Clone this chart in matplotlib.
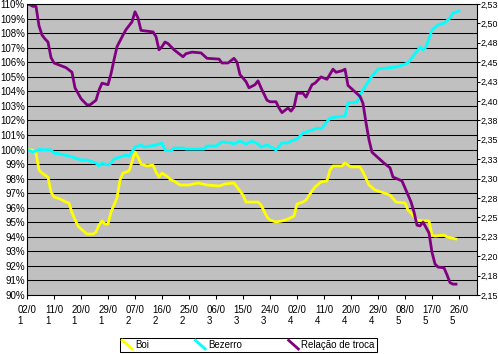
import matplotlib
matplotlib.use('Agg')
import matplotlib.pyplot as plt
from matplotlib.lines import Line2D
from matplotlib.legend_handler import HandlerBase

# ---------------- data ----------------
# x values are days since 02/01
x_tick_days = [0, 9, 18, 27, 36, 45, 54, 63, 72, 81, 90, 99, 108, 117, 126, 135, 144]
x_tick_labels = ["02/0\n1", "11/0\n1", "20/0\n1", "29/0\n1", "07/0\n2", "16/0\n2", "25/0\n2",
                 "06/0\n3", "15/0\n3", "24/0\n3", "02/0\n4", "11/0\n4", "20/0\n4", "29/0\n4",
                 "08/0\n5", "17/0\n5", "26/0\n5"]

left_ticks = list(range(90, 111))
left_tick_labels = [f"{v}%" for v in left_ticks]

right_ticks = [2.15, 2.175, 2.20, 2.225, 2.25, 2.275, 2.30, 2.325, 2.35, 2.375,
               2.40, 2.425, 2.45, 2.475, 2.50, 2.525]
right_tick_labels = ["2,15", "2,18", "2,20", "2,23", "2,25", "2,28", "2,30", "2,33",
                     "2,35", "2,38", "2,40", "2,43", "2,45", "2,48", "2,50", "2,53"]

boi_days = [0, 2, 3, 4, 5, 7, 8, 9, 11, 13, 14, 15, 17, 18, 20, 22, 23, 24, 25, 26, 27, 28,
            30, 31, 32, 34, 35, 36, 37, 38, 40, 42, 43, 44, 45, 47, 48, 49, 51, 54, 57, 60,
            64, 66, 69, 70, 72, 73, 77, 78, 80, 81, 83, 85, 87, 89, 90, 92, 93, 95, 96, 98,
            100, 101, 102, 105, 106, 108, 110, 111, 112, 114, 116, 118, 121, 123, 126, 127,
            128, 130, 132, 134, 135, 136, 139, 140, 143]
boi = [100.0, 99.95, 99.76, 98.6, 98.38, 98.1, 97.08, 96.74, 96.6, 96.39, 96.32, 95.64,
       94.74, 94.54, 94.19, 94.19, 94.33, 94.81, 95.09, 94.88, 94.88, 95.7, 96.67, 97.9,
       98.38, 98.52, 99.14, 99.83, 99.48, 99.0, 98.87, 98.93, 98.45, 98.11, 98.38, 98.11,
       97.9, 97.84, 97.56, 97.56, 97.7, 97.56, 97.49, 97.63, 97.7, 97.42, 96.87, 96.39,
       96.39, 96.19, 95.36, 95.15, 95.02, 95.09, 95.22, 95.43, 96.25, 96.39, 96.53, 97.15,
       97.42, 97.77, 97.84, 98.59, 98.87, 98.87, 99.07, 98.8, 98.8, 98.8, 98.45, 97.56,
       97.22, 97.08, 96.87, 96.39, 96.32, 95.84, 95.64, 95.15, 95.09, 95.09, 94.12, 94.05,
       94.12, 93.99, 93.85]

bezerro_days = [0, 2, 4, 8, 9, 11, 14, 16, 18, 20, 22, 23, 24, 25, 27, 28, 29, 31, 33, 34,
                35, 36, 38, 39, 41, 43, 45, 46, 48, 49, 52, 53, 59, 60, 63, 65, 68, 69, 71,
                73, 75, 77, 78, 80, 82, 83, 85, 87, 88, 90, 92, 95, 97, 98, 101, 103, 106,
                107, 110, 111, 113, 115, 117, 120, 123, 125, 127, 129, 131, 132, 133, 135,
                137, 139, 141, 142, 144]
bezerro = [100.0, 99.83, 100.0, 99.97, 99.76, 99.69, 99.55, 99.42, 99.28, 99.28, 99.14,
           99.07, 98.87, 99.07, 98.93, 99.07, 99.35, 99.48, 99.62, 99.55, 99.83, 100.17,
           100.31, 100.17, 100.24, 100.31, 100.45, 99.97, 99.9, 100.1, 100.1, 100.03,
           100.03, 100.24, 100.24, 100.52, 100.45, 100.38, 100.58, 100.38, 100.58, 100.38,
           100.17, 100.31, 100.1, 99.97, 100.45, 100.45, 100.58, 100.72, 101.13, 101.34,
           101.48, 101.41, 102.16, 102.23, 102.3, 103.2, 103.26, 103.75, 104.43, 105.05,
           105.53, 105.6, 105.67, 105.81, 105.95, 106.49, 107.04, 106.84, 107.04, 108.21,
           108.56, 108.69, 109.04, 109.38, 109.52]

troca_days = [0, 1, 2, 3, 4, 5, 6, 7, 8, 9, 11, 13, 15, 16, 18, 20, 21, 23, 24, 25, 27, 28,
              29, 30, 32, 33, 35, 36, 37, 38, 40, 42, 43, 44, 45, 46, 47, 49, 52, 53, 55,
              58, 60, 64, 65, 67, 69, 70, 71, 73, 74, 76, 77, 78, 80, 81, 83, 84, 85, 87,
              88, 89, 90, 92, 93, 95, 96, 98, 100, 102, 103, 105, 106, 107, 109, 111, 112,
              113, 114, 115, 117, 119, 121, 122, 125, 126, 128, 129, 130, 131, 132, 134,
              135, 136, 137, 139, 140, 141, 142, 143]
troca = [2.525, 2.524, 2.522, 2.522, 2.497, 2.485, 2.480, 2.476, 2.456, 2.449, 2.446,
         2.443, 2.437, 2.417, 2.403, 2.395, 2.395, 2.401, 2.414, 2.423, 2.421, 2.435,
         2.453, 2.470, 2.485, 2.492, 2.502, 2.515, 2.507, 2.491, 2.490, 2.489, 2.483,
         2.466, 2.470, 2.476, 2.474, 2.466, 2.457, 2.461, 2.463, 2.462, 2.455, 2.454,
         2.449, 2.449, 2.455, 2.450, 2.434, 2.425, 2.417, 2.421, 2.426, 2.417, 2.401,
         2.399, 2.399, 2.391, 2.385, 2.391, 2.387, 2.392, 2.410, 2.410, 2.405, 2.421,
         2.423, 2.431, 2.428, 2.441, 2.437, 2.439, 2.441, 2.420, 2.413, 2.406, 2.397,
         2.372, 2.350, 2.334, 2.327, 2.320, 2.314, 2.302, 2.297, 2.288, 2.270, 2.257,
         2.240, 2.239, 2.244, 2.230, 2.205, 2.190, 2.186, 2.185, 2.176, 2.166, 2.164,
         2.164]

series_labels = ["Boi", "Bezerro", "Relação de troca"]

# ---------------- styling ----------------
plt.rcParams['font.family'] = ['Liberation Sans', 'DejaVu Sans']
FS = 7

fig = plt.figure(figsize=(4.98, 3.54), dpi=100, facecolor='white')
ax = fig.add_axes([27 / 498, 1 - 295 / 354, 450 / 498, 291 / 354])
ax.set_facecolor('#C0C0C0')

lw = 2.0
l1, = ax.plot(boi_days, boi, color='#FFFF00', lw=lw, label=series_labels[0],
              solid_joinstyle='round')
l2, = ax.plot(bezerro_days, bezerro, color='#00FFFF', lw=lw, label=series_labels[1],
              solid_joinstyle='round')
ax.set_xlim(0, 150)
ax.set_ylim(90, 110)
ax.set_yticks(left_ticks)
ax.set_yticklabels(left_tick_labels, fontsize=FS)
ax.set_xticks(x_tick_days)
ax.set_xticklabels(x_tick_labels, fontsize=FS, ha='center', multialignment='left',
                   linespacing=1.2)
ax.yaxis.grid(True, color='black', lw=0.75)
ax.set_axisbelow(True)
ax.tick_params(axis='y', length=0, pad=1.5)
ax.tick_params(axis='x', length=3, width=0.75, pad=4, direction='out')

ax2 = ax.twinx()
l3, = ax2.plot(troca_days, troca, color='#800080', lw=lw, label=series_labels[2],
               solid_joinstyle='round')
ax2.set_ylim(2.15, 2.525)
ax2.set_yticks(right_ticks)
ax2.set_yticklabels(right_tick_labels, fontsize=6.4)
ax2.tick_params(axis='y', length=2.5, width=0.75, pad=0.3, direction='out')

for a in (ax, ax2):
    for s in a.spines.values():
        s.set_color('black')
        s.set_linewidth(0.75)


class DiagonalHandler(HandlerBase):
    def create_artists(self, legend, orig_handle, xdescent, ydescent, width, height,
                       fontsize, trans):
        line = Line2D([-xdescent, -xdescent + width], [-ydescent + height, -ydescent],
                      color=orig_handle.get_color(), lw=orig_handle.get_linewidth(),
                      transform=trans)
        return [line]


leg = fig.legend(handles=[l1, l2, l3], labels=series_labels, ncol=3,
                 loc='center', bbox_to_anchor=(248.5 / 498, 1 - 345 / 354),
                 fontsize=FS, frameon=True, fancybox=False, shadow=False,
                 edgecolor='black', facecolor='white', framealpha=1,
                 borderpad=0.25, handlelength=1.0, handleheight=1.0,
                 handletextpad=0.3, columnspacing=4.8,
                 handler_map={Line2D: DiagonalHandler()})
leg.get_frame().set_linewidth(0.75)

fig.savefig('out.png', dpi=100, facecolor='white')
